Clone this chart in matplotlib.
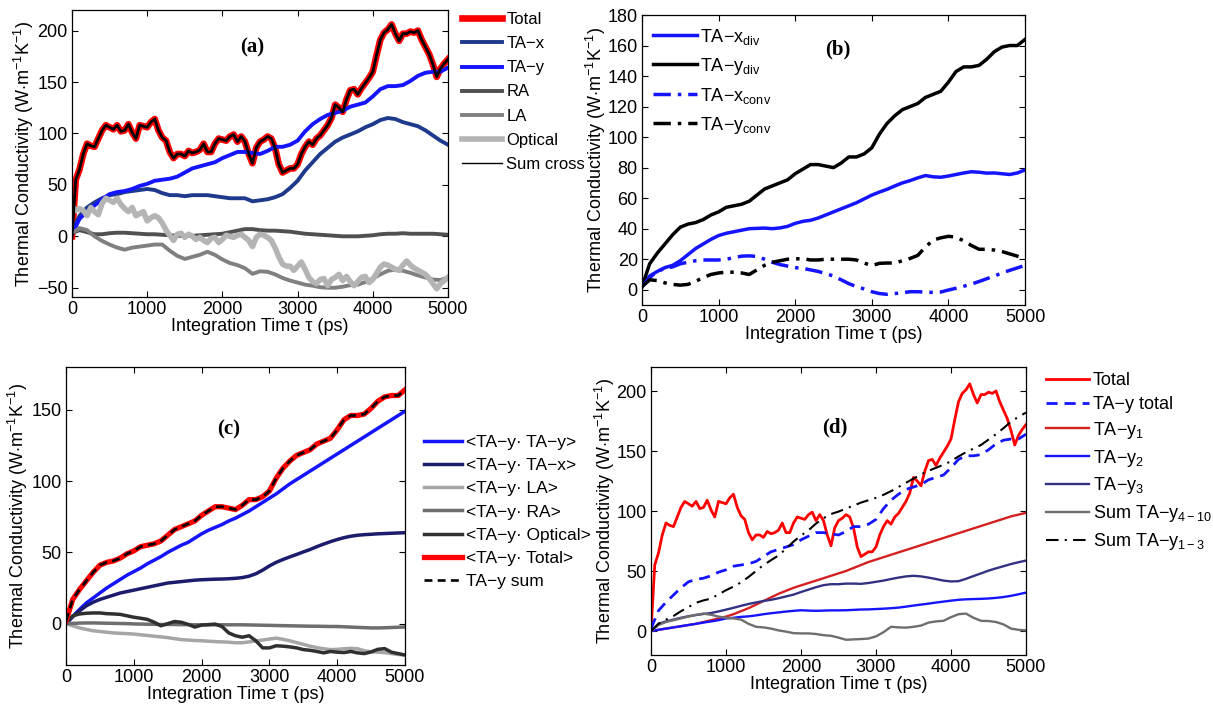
import numpy as np
import matplotlib
matplotlib.use("Agg")
import matplotlib.pyplot as plt

plt.rcParams['font.family'] = ['Liberation Sans', 'DejaVu Sans']
plt.rcParams['mathtext.fontset'] = 'custom'
plt.rcParams['mathtext.rm'] = 'Liberation Sans'
plt.rcParams['mathtext.it'] = 'Liberation Sans:italic'
plt.rcParams['mathtext.bf'] = 'Liberation Sans:bold'

# ---------------- data ----------------
t100 = np.arange(0, 5001, 100)
t50 = np.arange(0, 5001, 50)

total = [0, 55, 65, 80, 90, 88, 87, 95, 103, 108,
         106, 104, 108, 102, 103, 109, 101, 95, 108, 107,
         106, 111, 114, 103, 96, 93, 82, 76, 80, 80,
         78, 83, 81, 82, 84, 90, 82, 82, 90, 95,
         94, 93, 97, 99, 92, 97, 92, 80, 71, 86,
         92, 94, 97, 95, 86, 70, 62, 64, 66, 66,
         70, 80, 87, 92, 89, 95, 98, 103, 108, 115,
         128, 125, 121, 133, 142, 143, 138, 144, 149, 154,
         160, 176, 191, 198, 201, 206, 197, 190, 197, 197,
         199, 198, 200, 191, 184, 177, 167, 155, 163, 168, 172]

ta_x = [5, 20, 28, 33, 37, 40, 41, 43, 44, 45, 46, 45, 42, 40, 40, 39, 40, 40, 40, 39,
        38, 37, 37, 37, 34, 35, 36, 38, 41, 47, 54, 64, 72, 80, 86, 92, 96, 99, 102, 106,
        109, 113, 115, 114, 111, 109, 107, 103, 98, 93, 89]

ta_y_total = [2, 17, 24, 30, 36, 41, 43, 44, 46, 49, 51, 54, 55, 56, 58, 62, 66, 68, 70, 72,
              76, 79, 82, 82, 81, 80, 83, 87, 87, 89, 93, 102, 109, 114, 118, 120, 122, 126, 128, 130,
              136, 143, 146, 146, 147, 151, 156, 159, 160, 160, 164]

ra = [3, 6, 4, 2, 2, 3, 3.5, 3.5, 3, 2.5, 2, 2, 1.5, 1, 0.5, 0.5, 0.5, 1, 1.5, 2,
      2.5, 4, 5.5, 7, 7, 6, 5.5, 5.5, 5, 4.5, 3.5, 2.5, 2, 1.5, 1, 0.5, 0, 0, 0, 0.5,
      1, 2, 2.5, 2.5, 3, 2.5, 2.5, 2.5, 2.5, 2, 1.5]

la = [3, 8, 6, 0, -4.5, -8, -11, -13, -11, -10, -9, -8, -8, -14, -19, -22, -20, -18, -15, -18,
      -22.5, -26, -28, -31, -36.5, -34, -34.5, -37, -40.5, -43, -45, -47, -48, -49.5, -50, -50,
      -49, -47.5, -47, -44.5, -41, -37, -33.5, -32.5, -33.5, -35.5, -38, -40, -42, -42.5, -40]

optical = [30, 25, 27, 25, 20, 28, 24, 21, 32, 37,
           35, 33, 37, 31, 27, 24, 28, 20, 22, 24,
           15, 18, 20, 18, 13, 6, 1, -4, 2, 3,
           -1, 2, 0, -3, -1, -4, -6, -2, -1, -6,
           -3, 1, 0, -1, 1, 2, -1, -4, -10, -1,
           2, 1, -1, -4, -11, -20, -27, -29, -29, -33,
           -29, -25, -32, -40, -44, -46, -42, -41, -48, -42,
           -40, -37, -43, -39, -44, -48, -44, -40, -39, -45,
           -42, -36, -30, -27, -28, -30, -32, -33, -28, -24,
           -28, -31, -33, -35, -37, -41, -46, -51, -46, -43, -40]

ta_x_div = [2, 9, 12, 14.5, 16, 19, 23, 27, 30, 33, 35.5, 37, 38, 39, 40, 40.2, 40.4, 40, 40.5, 41.5,
            43.5, 44.8, 45.5, 47, 49, 51, 53, 55, 57, 59.5, 62, 64, 65.8, 68, 70, 71.5, 73.3, 74.8, 74,
            73.7, 74.5, 75.5, 76.5, 77.3, 77, 76.4, 76.5, 76, 75.5, 76.5, 78.5]

ta_x_conv = [2, 8, 12, 14, 15, 17, 18, 19, 19.5, 19.5, 19.5, 20, 21, 22, 22.2, 21.8, 20, 18, 16.5,
             15.5, 14.5, 14, 13, 12, 10.5, 9, 6.5, 4, 2, 0.5, -1.3, -2.5, -3, -2.5, -2, -1.3, -1.3,
             -1.5, -1.8, -1.5, -0.2, 1, 2.3, 3.7, 5.4, 7.2, 9, 11, 12.7, 14.3, 16]

ta_y_conv = [2, 6.5, 6, 4.5, 3.5, 3, 3.5, 5.5, 8, 10, 11, 11.5, 11.5, 11, 10, 13, 16, 18, 19, 20,
             20.2, 20.4, 19.5, 19.5, 20, 20, 20, 20, 19.5, 17.5, 15.8, 17.3, 17.5, 17.5, 19, 20.5,
             22.5, 28, 32.5, 34, 35, 34.5, 32, 29, 26.5, 26.5, 26, 25, 23.5, 22, 20.5]

c_yy = [0, 5, 10, 14.5, 18, 21.5, 25, 28, 31, 34, 36.5, 39, 42, 44.5, 47, 50, 52.5, 55, 57, 60,
        63, 65.5, 67.5, 69.5, 72, 74, 76.5, 79, 82, 85, 88, 91, 94.5, 98, 101, 104, 107, 110, 113,
        116, 119, 122, 125, 128, 131, 134, 137, 140, 143, 146, 149]

c_yx = [0, 5, 9, 12.5, 15, 17, 18.5, 20, 21.5, 22.5, 23.5, 24.5, 25.5, 26.5, 27.5, 28.5, 29, 29.5,
        30, 30.5, 30.8, 31, 31.2, 31.3, 31.5, 31.8, 32.3, 33.3, 35, 37.5, 40.5, 43, 45, 46.8, 48.5,
        50.3, 52, 54, 55.8, 57.5, 59, 60.3, 61.3, 62, 62.4, 62.7, 63, 63.2, 63.4, 63.6, 63.8]

c_yla = [0, -1.5, -3, -4, -5, -5.5, -6, -6.5, -6.8, -7, -7.3, -7.8, -8.3, -8.8, -9.3, -9.8, -10.5,
         -11.2, -11.5, -11.8, -12, -12.3, -12.6, -12.8, -13, -13.4, -13.4, -12.8, -12.2, -11.5, -10.8,
         -10.2, -11, -12, -13.3, -14.5, -15.8, -16.8, -17.6, -18.2, -18, -17.6, -17.3, -17.6, -19,
         -19.8, -20, -20.3, -21, -21.6, -22]

c_yra = [0, 0.2, 0.4, 0.5, 0.5, 0.4, 0.3, 0.2, 0.1, 0, -0.2, -0.3, -0.4, -0.5, -0.6, -0.6, -0.6,
         -0.7, -0.7, -0.8, -0.8, -0.8, -0.8, -0.8, -0.8, -0.8, -0.8, -0.9, -1, -1.1, -1.2, -1.3,
         -1.4, -1.5, -1.6, -1.7, -1.8, -1.8, -1.9, -2, -2, -2.2, -2.4, -2.6, -2.8, -3, -3, -2.9,
         -2.7, -2.5, -2.4]

c_yopt = [1, 5.5, 6.8, 7.3, 7.5, 7.5, 7, 6.8, 6.5, 5.5, 4.5, 3.8, 3, 1, -1.5, 0, 1.5, 1, -0.5,
          -2.4, -1, -0.7, -0.3, -2, -6.5, -8.5, -9.5, -8.5, -12, -17, -17, -15.5, -15.8, -16.3,
          -17, -18.2, -18.7, -19.5, -20.5, -19.5, -20, -20.3, -19.5, -20.5, -21, -19.8, -18, -17.5,
          -20, -21, -22]

d_y1 = [0, 1, 2, 3, 4, 5, 6, 7.5, 9, 10.5, 12, 14, 16.5, 19, 22, 25, 28, 31, 33.5, 36, 38, 40,
        42, 44, 46, 48, 50, 52.5, 55, 57.5, 59.5, 61.5, 63.5, 65.5, 67.5, 69.5, 71.5, 73.5, 75.5,
        77.5, 79.5, 81.5, 83.5, 85.5, 87.5, 89.5, 91.5, 93.5, 95.5, 97, 98.5]

d_y2 = [0, 1, 2, 3, 4, 5, 6, 7, 8, 9, 10.5, 11, 11.8, 12.2, 13, 14, 14.8, 15.5, 16.2, 16.8, 17.3,
        17, 16.8, 17, 17.2, 17.2, 17.3, 17.6, 17.9, 18, 18.3, 18.6, 19, 19.5, 20.3, 21.2, 22, 22.8,
        23.7, 24.5, 25.3, 26, 26.4, 26.6, 26.8, 27.1, 27.6, 28.3, 29.3, 30.6, 32]

d_y3 = [0, 6, 8, 9.5, 11, 12.3, 13.3, 14.2, 15, 16.3, 17.8, 19.3, 21, 22.5, 23.8, 25, 26, 27.3,
        28.8, 30.3, 32.5, 34.5, 36.5, 38.2, 39, 39, 39.5, 39.5, 39.3, 40, 41, 42, 43.3, 44.5, 45.5,
        46, 45.5, 44.5, 43.3, 42, 41.3, 41.5, 43.5, 45.8, 48, 50.3, 52.2, 54, 55.8, 57.3, 58.7]

d_y4_10 = [0, 5, 7.5, 9, 10.5, 12, 13.5, 14.5, 13.5, 12, 11, 10.5, 9.5, 6, 3.5, 3, 2, 0.5, -0.5,
           -1.8, -2, -2, -2.5, -3.5, -4, -5.5, -7.3, -7, -6.7, -6.3, -4.5, -1, 3.5, 3, 2.8, 3.5,
           4.5, 7, 8, 8.5, 11.5, 14, 14.5, 11, 8.5, 8.3, 7.5, 5.5, 2, 1, 0.5]

d_y1_3 = [0, 6, 9.5, 12.5, 16.5, 20, 23.5, 25.5, 27, 30.5, 34, 37, 40.5, 45, 50, 55, 59, 63,
          68.5, 74.5, 79.5, 84, 89.5, 94, 97.5, 99.5, 102, 104.5, 107, 109, 111, 113.5, 116.5,
          120, 123.5, 127, 130.5, 133.5, 136, 138.5, 141.5, 145.5, 149, 152, 155, 159.5, 164,
          169, 174.5, 178.5, 182]

xticks = [0, 1000, 2000, 3000, 4000, 5000]
ylabel = 'Thermal Conductivity (W$\\cdot$m$^{-1}$K$^{-1}$)'
xlabel = 'Integration Time \u03c4 (ps)'

# ---------------- figure ----------------
fig = plt.figure(figsize=(12.13, 7.13), dpi=100)
FS = 13
LFS = 13


def style(ax, ylim, yticks, letter, lpos):
    ax.set_xlim(0, 5000)
    ax.set_ylim(*ylim)
    ax.set_xticks(xticks)
    ax.set_yticks(yticks)
    ax.tick_params(direction='in', top=True, right=True, length=4, width=0.8,
                   labelsize=FS, pad=3)
    for s in ax.spines.values():
        s.set_linewidth(0.9)
    ax.set_xlabel(xlabel, fontsize=FS, labelpad=0)
    ax.set_ylabel(ylabel, fontsize=FS, labelpad=1)
    ax.text(lpos[0], lpos[1], letter, transform=ax.transAxes, ha='center', va='center',
            fontsize=15, fontweight='bold', family='Liberation Serif')


# (a)
axa = fig.add_axes([72 / 1213, 1 - 297 / 713, 376 / 1213, 287 / 713])
axa.plot(t50, total, color='#ff0000', lw=4.8, label='Total')
axa.plot(t100, ta_x, color='#1f3a8c', lw=2.8, label='TA\u2212x')
axa.plot(t100, ta_y_total, color='#1414ff', lw=2.8, label='TA\u2212y')
axa.plot(t100, ra, color='#505050', lw=2.8, label='RA')
axa.plot(t100, la, color='#808080', lw=2.8, label='LA')
axa.plot(t50, optical, color='#b4b4b4', lw=4.0, label='Optical')
axa.plot(t50, total, color='black', lw=2.0, label='Sum cross')
style(axa, (-59, 220), [-50, 0, 50, 100, 150, 200], '(a)', (0.48, 0.87))
h, l = axa.get_legend_handles_labels()
leg = fig.legend(h, l, loc='upper left', bbox_to_anchor=(462 / 1213, 1 - 12 / 713),
                 frameon=False, fontsize=12, handlelength=2.4, handletextpad=0.25,
                 labelspacing=0.55, borderpad=0, borderaxespad=0)
leg.get_lines()[6].set_linewidth(1.0)

# (b)
axb = fig.add_axes([642 / 1213, 1 - 305 / 713, 383 / 1213, 290 / 713])
axb.plot(t100, ta_x_div, color='#1414ff', lw=2.5, label='TA\u2212x$_{\\rm div}$')
axb.plot(t100, ta_y_total, color='black', lw=2.5, label='TA\u2212y$_{\\rm div}$')
axb.plot(t100, ta_x_conv, color='#1414ff', lw=2.5, ls=(0, (5, 2, 1, 2)),
         label='TA\u2212x$_{\\rm conv}$')
axb.plot(t100, ta_y_conv, color='black', lw=2.5, ls=(0, (5, 2, 1, 2)),
         label='TA\u2212y$_{\\rm conv}$')
style(axb, (-10, 180), list(range(0, 181, 20)), '(b)', (0.51, 0.88))
axb.yaxis.labelpad = 0
axb.legend(loc='upper left', bbox_to_anchor=(0.03, 0.96), frameon=False, fontsize=LFS,
           handlelength=2.4, handletextpad=0.2, labelspacing=0.5, borderpad=0,
           borderaxespad=0)

# (c)
axc = fig.add_axes([66 / 1213, 1 - 665 / 713, 339 / 1213, 298 / 713])
axc.plot(t100, c_yy, color='#1414ff', lw=2.5, label='<TA\u2212y\u00b7 TA\u2212y>')
axc.plot(t100, c_yx, color='#1c1c6c', lw=2.5, label='<TA\u2212y\u00b7 TA\u2212x>')
axc.plot(t100, c_yla, color='#a6a6a6', lw=2.5, label='<TA\u2212y\u00b7 LA>')
axc.plot(t100, c_yra, color='#6e6e6e', lw=2.5, label='<TA\u2212y\u00b7 RA>')
axc.plot(t100, c_yopt, color='#303030', lw=2.5, label='<TA\u2212y\u00b7 Optical>')
axc.plot(t100, ta_y_total, color='#ff0000', lw=3.8, label='<TA\u2212y\u00b7 Total>')
axc.plot(t100, ta_y_total, color='black', lw=1.9, ls=(0, (3, 2)), label='TA\u2212y sum')
style(axc, (-29, 180), [0, 50, 100, 150], '(c)', (0.48, 0.79))
fig.legend(*axc.get_legend_handles_labels(), loc='upper left',
           bbox_to_anchor=(424 / 1213, 1 - 435 / 713), frameon=False, fontsize=12.5,
           handlelength=2.2, handletextpad=0.2, labelspacing=0.46, borderpad=0,
           borderaxespad=0)

# (d)
axd = fig.add_axes([651 / 1213, 1 - 655 / 713, 375 / 1213, 288 / 713])
axd.plot(t50, total, color='#ff0000', lw=2.0, label='Total')
axd.plot(t100, ta_y_total, color='#1414ff', lw=2.0, ls=(0, (4, 2.5)), label='TA\u2212y total')
axd.plot(t100, d_y1, color='#d42020', lw=1.7, label='TA\u2212y$_1$')
axd.plot(t100, d_y2, color='#1414ff', lw=1.7, label='TA\u2212y$_2$')
axd.plot(t100, d_y3, color='#323282', lw=1.7, label='TA\u2212y$_3$')
axd.plot(t100, d_y4_10, color='#6e6e6e', lw=1.7, label='Sum TA\u2212y$_{4\u221210}$')
axd.plot(t100, d_y1_3, color='black', lw=1.5, ls=(0, (6, 3, 1, 3)),
         label='Sum TA\u2212y$_{1\u22123}$')
style(axd, (-20, 220), [0, 50, 100, 150, 200], '(d)', (0.49, 0.79))
axd.yaxis.labelpad = 0
fig.legend(*axd.get_legend_handles_labels(), loc='upper left',
           bbox_to_anchor=(1046 / 1213, 1 - 372 / 713), frameon=False, fontsize=LFS,
           handlelength=2.4, handletextpad=0.2, labelspacing=0.38, borderpad=0,
           borderaxespad=0)

fig.savefig('out.png', dpi=100)
